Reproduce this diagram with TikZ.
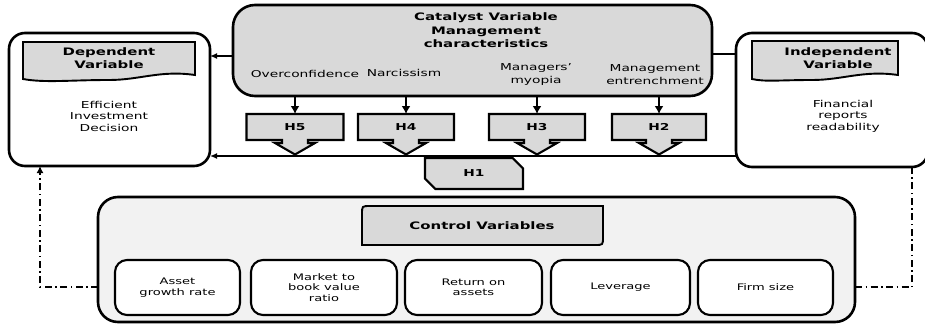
\documentclass[tikz,border=0pt]{standalone}
\usepackage{fontspec}
\setmainfont{DejaVu Sans}[FakeStretch=1.45]
\usetikzlibrary{arrows.meta,shapes.misc,backgrounds}
\definecolor{hdrgray}{RGB}{217,217,217}
\definecolor{ctrlfill}{RGB}{242,242,242}
\newcommand\hshp[1]{\draw[hline] (#1.north west) -- (#1.north east) -- (#1.south east) -- ([xshift=13pt]#1.south) -- ++(0,3) -- ++(7,0) -- ++(-20,11.5) -- ++(-20,-11.5) -- ++(7,0) -- ++(0,-3) -- (#1.south west) -- cycle;}
\begin{document}
\begin{tikzpicture}[x=1pt,y=-1pt,
 every node/.style={inner sep=0pt,outer sep=0pt},
 rtxt/.style={font=\fontsize{9.5}{11.5}\selectfont,align=center},
 mtxt/.style={font=\fontsize{9.5}{13}\selectfont,align=center},
 btxt/.style={font=\bfseries\fontsize{10.3}{12.5}\selectfont,align=center},
 ttxt/.style={font=\bfseries\fontsize{10.3}{13.5}\selectfont,align=center},
 ctxt/.style={font=\fontsize{9}{10.5}\selectfont,align=center},
 bigbox/.style={draw,line width=2.6pt,rounded corners=16pt,fill=white},
 hdrshape/.style={draw,line width=1.9pt,fill=hdrgray},
 hbox/.style={minimum height=26pt,font=\bfseries\fontsize{9.5}{11}\selectfont},
 hline/.style={draw,line width=2.1pt,fill=hdrgray,line join=miter},
 itembox/.style={draw,line width=2.1pt,rounded corners=12pt,fill=white,minimum height=55pt,ctxt},
 conn/.style={line width=1.3pt},
 arr/.style={-{Latex[length=7pt,width=6pt]}},
 dd/.style={line width=2pt,dash pattern=on 7pt off 3.5pt on 1.5pt off 3.5pt}
]
\useasboundingbox (0,0) rectangle (925,324);

% control variables
\node[bigbox,fill=ctrlfill,rounded corners=20pt,minimum width=757pt,minimum height=125pt] (ctrl) at (476.5,259.5) {};
\draw[hdrshape] (362,245) -- (362,214) .. controls (362,206) .. (370,206) -- (603,206) -- (603,237) .. controls (603,245) .. (595,245) -- cycle;
\node[btxt] (ctrlt) at (482,226) {Control Variables};
\node[itembox,minimum width=125pt] (c1) at (177.5,287.5) {Asset\\growth rate};
\node[itembox,minimum width=146pt] (c2) at (324,287.5) {Market to\\book value\\ratio};
\node[itembox,minimum width=137pt] (c3) at (473.5,287.5) {Return on\\assets};
\node[itembox,minimum width=139pt] (c4) at (620.5,287.5) {Leverage};
\node[itembox,minimum width=135pt] (c5) at (765.5,287.5) {Firm size};

% dependent
\node[bigbox,minimum width=201pt,minimum height=133pt] (dep) at (109.5,99.5) {};
\draw[hdrshape] (23,42) -- (195,42) -- (195,75) .. controls (160,70) and (140,80) .. (109,80) .. controls (70,80) and (45,83) .. (23,79) -- cycle;
\node[btxt] (deph) at (109,58) {Dependent\\Variable};
\node[rtxt] (depb) at (109,116) {Efficient\\Investment\\Decision};

% independent
\node[bigbox,minimum width=192pt,minimum height=134pt] (ind) at (832,100) {};
\draw[hdrshape] (752,41) -- (898,41) -- (898,75) .. controls (863,70) and (843,80) .. (812,80) .. controls (780,80) and (765,82) .. (752,79) -- cycle;
\node[btxt] (indh) at (838,58) {Independent\\Variable};
\node[rtxt] (indb) at (843,116) {Financial\\reports\\readability};

% catalyst
\node[draw,line width=2.6pt,rounded corners=22pt,fill=hdrgray,minimum width=479pt,minimum height=91pt] (cat) at (472.5,50.5) {};
\node[ttxt] (catt) at (486,30.5) {Catalyst Variable\\Management\\characteristics};
\node[mtxt] (ov) at (305,74) {Overconfidence};
\node[mtxt] (na) at (404,73) {Narcissism};
\node[mtxt] (mm) at (536,74.5) {Managers'\\myopia};
\node[mtxt] (me) at (655,74.5) {Management\\entrenchment};

% hypotheses
\node[hbox,minimum width=97pt] (h5) at (295,127) {H5};
\node[hbox,minimum width=96pt] (h4) at (406,127) {H4};
\node[hbox,minimum width=96pt] (h3) at (537,127) {H3};
\node[hbox,minimum width=94pt] (h2) at (659,127) {H2};
\begin{scope}[on background layer]
\hshp{h5}\hshp{h4}\hshp{h3}\hshp{h2}
\end{scope}
\node[chamfered rectangle,chamfered rectangle corners={north east,south west},chamfered rectangle xsep=7pt,chamfered rectangle ysep=7pt,draw,line width=2.1pt,fill=hdrgray,minimum width=98pt,minimum height=31pt,font=\bfseries\fontsize{9.5}{11}\selectfont] (h1) at (474,173.5) {H1};

% connectors
\foreach \h in {h5,h4,h3,h2}
  \draw[line width=2.2pt,-{Latex[length=8pt,width=9pt]}] (\h.north |- cat.south) -- (\h.north);
\draw[conn,arr] (cat.west |- 0,56) -- (dep.east |- 0,56);
\draw[conn] (cat.east |- 0,54) -- (ind.west |- 0,54);
\draw[conn,arr] (ind.west |- 0,156) -- (dep.east |- 0,156);
\draw[dd,-{Latex[length=7pt,width=7pt]}] (ctrl.west |- 0,287) -| (dep.south -| 40,0);
\draw[dd] (ctrl.east |- 0,287) -| (ind.south -| 912,0);
\end{tikzpicture}
\end{document}
